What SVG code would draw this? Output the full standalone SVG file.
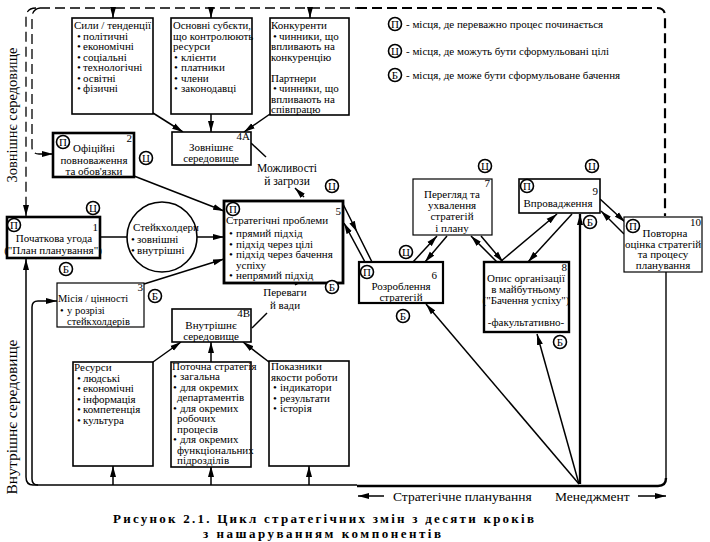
<svg xmlns="http://www.w3.org/2000/svg" width="710" height="542" viewBox="0 0 710 542">
<style>
text{font-family:"Liberation Serif","Times New Roman",serif;font-size:11px;fill:#000}
.c{text-anchor:middle}
.e{text-anchor:end}
.box{fill:#fff;stroke:#000;stroke-width:1.6}
.thick{stroke-width:2.6}
.thin{stroke-width:1.2}
.ln{fill:none;stroke:#000;stroke-width:1.5}
.tk{stroke-width:2.3}
.dash{fill:none;stroke:#000;stroke-width:1.3;stroke-dasharray:10 5}
.mk{fill:#fff;stroke:#000;stroke-width:1.6}
.ml{text-anchor:middle;font-size:11px}
.big{font-size:13.5px}
.side{font-size:14.5px;text-anchor:middle}
.cap{font-size:13px;font-weight:bold}
.sm{font-size:10.5px}
</style>
<defs>
<marker id="a" markerUnits="userSpaceOnUse" markerWidth="11" markerHeight="7" refX="11" refY="3.5" orient="auto"><path d="M0,0.5 L11,3.5 L0,6.5 z" fill="#000"/></marker>
</defs>

<g id="frame">
<path class="dash" d="M40,8 H357"/>
<path class="dash" style="stroke-width:2.2" d="M357,8 H657 Q665,8 665,16 V216"/>
<path class="dash" d="M36,8 Q26,8 26,18 V216" marker-end="url(#a)"/>
<path class="dash" d="M40,8 Q32,9 32,18 V147 Q32,154 39,154 H53" marker-end="url(#a)"/>
<path class="ln" style="stroke-width:1.3" d="M33,485 H357"/>
<path class="ln" style="stroke-width:2.4" d="M357,486 H658 Q666,486 666,478"/>
<path class="ln" style="stroke-width:1.4" d="M666,478 V272"/>
<path class="ln" d="M33,485 Q26,485 26,477 V259" marker-end="url(#a)"/>
<path class="ln" d="M38,485 Q32,485 32,479 V307 Q32,301 38,301 H57" marker-end="url(#a)"/>
</g>

<g id="connectors">
<path class="ln" d="M113,8 V18" marker-end="url(#a)"/>
<path class="ln" d="M211,8 V18" marker-end="url(#a)"/>
<path class="ln" d="M310,8 V18" marker-end="url(#a)"/>
<path class="ln" d="M113,485 V466" marker-end="url(#a)"/>
<path class="ln" d="M211,485 V466" marker-end="url(#a)"/>
<path class="ln" d="M309,485 V466" marker-end="url(#a)"/>
<path class="ln" d="M153,113 L183,132" marker-end="url(#a)"/>
<path class="ln" d="M211,114 V132" marker-end="url(#a)"/>
<path class="ln" d="M270,114 L244,132" marker-end="url(#a)"/>
<path class="ln" d="M153,362 L181,342" marker-end="url(#a)"/>
<path class="ln" d="M211,362 V342" marker-end="url(#a)"/>
<path class="ln" d="M269,362 L243,342" marker-end="url(#a)"/>
<path class="ln" d="M251,143 L266,157"/>
<path class="ln" d="M304,197 L295,188" marker-end="url(#a)"/>
<path class="ln" d="M304,279 L295,285" marker-end="url(#a)"/>
<path class="ln" d="M267,313 L252,328"/>
<path class="ln" d="M134,176 L224,211" marker-end="url(#a)"/>
<path class="ln" d="M100,237 H127"/>
<path class="ln" d="M197,237 H224" marker-end="url(#a)"/>
<path class="ln" d="M144,284 L224,259" marker-end="url(#a)"/>
<path class="ln" d="M343,204 L357,232 L372,262" marker-mid="url(#a)"/>
<path class="ln" d="M365,262 L344,223" marker-end="url(#a)"/>
<path class="ln" d="M413,262 L437,236" marker-end="url(#a)"/>
<path class="ln" d="M447,236 L425,262" marker-end="url(#a)"/>
<path class="ln" d="M497,262 L471,236" marker-end="url(#a)"/>
<path class="ln" d="M481,236 L503,262" marker-end="url(#a)"/>
<path class="ln" d="M500,262 L557,214" marker-end="url(#a)"/>
<path class="ln" d="M572,214 L528,262" marker-end="url(#a)"/>
<path class="ln" d="M600,199 L625,222" marker-end="url(#a)"/>
<path class="ln" d="M624,234 L601,211" marker-end="url(#a)"/>
<path class="ln" d="M579,484 L426,304" marker-end="url(#a)"/>
<path class="ln" d="M579,484 L537,334" marker-end="url(#a)"/>
<path class="ln tk" d="M580,484 V214" marker-end="url(#a)"/>
<path class="ln" d="M384,496 H358" marker-end="url(#a)"/>
<path class="ln" d="M638,496 H666" marker-end="url(#a)"/>
</g>

<g id="forces">
<rect class="box" x="72" y="18" width="81" height="96"/>
<text x="74" y="29">Сили / тенденції</text>
<text x="77" y="39.5">• <tspan x="83">політичні</tspan></text>
<text x="77" y="50">• <tspan x="83">економічні</tspan></text>
<text x="77" y="60.5">• <tspan x="83">соціальні</tspan></text>
<text x="77" y="71">• <tspan x="83">технологічні</tspan></text>
<text x="77" y="81.5">• <tspan x="83">освітні</tspan></text>
<text x="77" y="92">• <tspan x="83">фізичні</tspan></text>
</g>
<g id="subjects">
<rect class="box" x="171" y="18" width="81" height="96"/>
<text x="173" y="29" textLength="78" lengthAdjust="spacingAndGlyphs">Основні субєкти,</text>
<text x="173" y="39.5">що контролюють</text>
<text x="173" y="50">ресурси</text>
<text x="174" y="60.5">• <tspan x="181">клієнти</tspan></text>
<text x="174" y="71">• <tspan x="181">платники</tspan></text>
<text x="174" y="81.5">• <tspan x="181">члени</tspan></text>
<text x="174" y="92">• <tspan x="181">законодавці</tspan></text>
</g>
<g id="competitors">
<rect class="box" x="270" y="18" width="79" height="97"/>
<text x="271" y="29">Конкуренти</text>
<text x="273" y="39.5">• <tspan x="279">чинники, що</tspan></text>
<text x="271" y="50">впливають на</text>
<text x="271" y="60.5">конкуренцію</text>
<text x="271" y="81.5">Партнери</text>
<text x="273" y="92">• <tspan x="279">чинники, що</tspan></text>
<text x="271" y="102.5">впливають на</text>
<text x="271" y="113">співпрацю</text>
</g>

<g id="n4a">
<rect class="box" x="172" y="132" width="79" height="33"/>
<text class="e" x="250" y="140">4A</text>
<text class="c" x="211" y="151">Зовнішнє</text>
<text class="c" x="211" y="161.5">середовище</text>
</g>
<g id="n4b">
<rect class="box" x="172" y="309" width="79" height="33"/>
<text class="e" x="250" y="317">4B</text>
<text class="c" x="211" y="329">Внутрішнє</text>
<text class="c" x="211" y="339.5">середовище</text>
</g>

<g id="n2">
<rect class="box thick" x="53" y="133" width="81" height="44"/>
<text class="e" x="132" y="142">2</text>
<text class="c" x="94" y="152">Офіційні</text>
<text class="c" x="94" y="163.5">повноваження</text>
<text class="c" x="94" y="175">та обов'язки</text>
<circle class="mk" cx="63" cy="142" r="6.5"/><text class="ml" x="63" y="146">П</text>
<circle class="mk" cx="146" cy="158" r="6.5"/><text class="ml" x="146" y="162">Ц</text>
</g>

<g id="n1">
<rect class="box thick" x="7" y="217" width="93" height="41"/>
<text class="e" x="98" y="231">1</text>
<text class="c" x="54" y="242">Початкова угода</text>
<text class="c" x="53" y="254">("План планування")</text>
<circle class="mk" cx="14" cy="225" r="6.5"/><text class="ml" x="14" y="229">П</text>
<circle class="mk" cx="93" cy="208" r="6.5"/><text class="ml" x="93" y="212">Ц</text>
<circle class="mk" cx="66" cy="269" r="6.5"/><text class="ml" x="66" y="273">Б</text>
</g>

<g id="stakeholders">
<circle cx="162" cy="237" r="35" fill="#fff" stroke="#000" stroke-width="1.6"/>
<text x="133" y="231">Стейкхолдери</text>
<text x="131" y="243">• <tspan x="137">зовнішні</tspan></text>
<text x="131" y="254">• <tspan x="137">внутрішні</tspan></text>
</g>

<g id="n3">
<rect class="box thin" x="57" y="283" width="87" height="44"/>
<text class="e" x="143" y="291">3</text>
<text class="sm" x="58" y="302">Місія / цінності</text>
<text class="sm" x="60" y="313.5">• <tspan x="67">у розрізі</tspan></text>
<text class="sm" x="67" y="324.5">стейкхолдерів</text>
<circle class="mk" cx="155" cy="296" r="6.5"/><text class="ml" x="155" y="300">Б</text>
</g>

<g id="n5">
<rect class="box" style="stroke-width:2.8" x="224" y="201" width="119" height="82"/>
<text class="e" x="341" y="215">5</text>
<text x="226" y="224">Стратегічні проблеми</text>
<text x="229" y="237">• <tspan x="236">прямий підхід</tspan></text>
<text x="229" y="247.5">• <tspan x="236">підхід через цілі</tspan></text>
<text x="229" y="258">• <tspan x="236">підхід через бачення</tspan></text>
<text x="236" y="268.5">успіху</text>
<text x="229" y="279">• <tspan x="236">непрямий підхід</tspan></text>
<circle class="mk" cx="233" cy="209" r="6.5"/><text class="ml" x="233" y="213">П</text>
<circle class="mk" cx="332" cy="186" r="6.5"/><text class="ml" x="332" y="190">Ц</text>
<circle class="mk" cx="332" cy="287" r="6.5"/><text class="ml" x="332" y="291">Б</text>
</g>

<g id="labels">
<text class="c" style="font-size:11.5px" x="287" y="171.5">Можливості</text>
<text class="c" style="font-size:11.5px" x="287" y="184.5">й загрози</text>
<text class="c" x="285" y="296">Переваги</text>
<text class="c" x="285" y="308.5">й вади</text>
</g>

<g id="n6">
<rect class="box" style="stroke-width:2.2" x="359" y="262" width="84" height="41"/>
<text class="e" x="437" y="279">6</text>
<text class="c" x="401" y="289.5">Розроблення</text>
<text class="c" x="401" y="300.5">стратегій</text>
<circle class="mk" cx="367" cy="272" r="6.5"/><text class="ml" x="367" y="276">П</text>
<circle class="mk" cx="406" cy="252" r="6.5"/><text class="ml" x="406" y="256">Ц</text>
<circle class="mk" cx="403" cy="316" r="6.5"/><text class="ml" x="403" y="320">Б</text>
</g>

<g id="n7">
<rect class="box thin" x="413" y="179" width="79" height="56"/>
<text class="e" x="490" y="187">7</text>
<text class="c" x="452" y="198">Перегляд та</text>
<text class="c" x="452" y="209">ухвалення</text>
<text class="c" x="452" y="220">стратегій</text>
<text class="c" x="452" y="231.5">і плану</text>
<circle class="mk" cx="485" cy="166" r="6.5"/><text class="ml" x="485" y="170">Ц</text>
</g>

<g id="n8">
<rect class="box" style="stroke-width:2.4" x="484" y="262" width="85" height="70"/>
<text class="e" x="567" y="271">8</text>
<text class="c" x="526" y="282">Опис організації</text>
<text class="c" x="526" y="293">в майбутньому</text>
<text class="c" x="526" y="304">("Бачення успіху")</text>
<text class="c" x="526" y="326">-факультативно-</text>
<circle class="mk" cx="560" cy="342" r="6.5"/><text class="ml" x="560" y="346">Б</text>
</g>

<g id="n9">
<rect class="box" x="519" y="179" width="81" height="34"/>
<text class="e" x="598" y="195">9</text>
<text class="c" x="558" y="207">Впровадження</text>
<circle class="mk" cx="527" cy="186" r="6.5"/><text class="ml" x="527" y="190">П</text>
<circle class="mk" cx="592" cy="166" r="6.5"/><text class="ml" x="592" y="170">Ц</text>
<circle class="mk" cx="590" cy="222" r="6.5"/><text class="ml" x="590" y="226">Б</text>
</g>

<g id="n10">
<rect class="box thin" x="624" y="217" width="78" height="55"/>
<text class="e" x="701" y="226">10</text>
<text class="c" x="665" y="237">Повторна</text>
<text class="c" x="663" y="247.5">оцінка стратегій</text>
<text class="c" x="663" y="258">та процесу</text>
<text class="c" x="663" y="268.5">планування</text>
<circle class="mk" cx="633" cy="226" r="6.5"/><text class="ml" x="633" y="230">П</text>
</g>

<g id="resources">
<rect class="box" x="73" y="362" width="80" height="104"/>
<text x="74" y="371">Ресурси</text>
<text x="77" y="381.5">• <tspan x="83">людські</tspan></text>
<text x="77" y="392">• <tspan x="83">економічні</tspan></text>
<text x="77" y="402.5">• <tspan x="83">інформація</tspan></text>
<text x="77" y="413">• <tspan x="83">компетенція</tspan></text>
<text x="77" y="423.5">• <tspan x="83">культура</tspan></text>
</g>
<g id="strategy">
<rect class="box" x="171" y="362" width="80" height="105"/>
<text x="172" y="369.5">Поточна стратегія</text>
<text x="173" y="380">• <tspan x="180">загальна</tspan></text>
<text x="173" y="390.5">• <tspan x="180">для окремих</tspan></text>
<text x="177" y="401">департаментів</text>
<text x="173" y="411.5">• <tspan x="180">для окремих</tspan></text>
<text x="177" y="422">робочих</text>
<text x="177" y="432.5">процесів</text>
<text x="173" y="443">• <tspan x="180">для окремих</tspan></text>
<text x="177" y="453.5">функціональних</text>
<text x="177" y="464">підрозділів</text>
</g>
<g id="indicators">
<rect class="box" x="269" y="361" width="80" height="105"/>
<text x="271" y="370">Показники</text>
<text x="271" y="380.5">якости роботи</text>
<text x="273" y="391">• <tspan x="280">індикатори</tspan></text>
<text x="273" y="401.5">• <tspan x="280">результати</tspan></text>
<text x="273" y="412">• <tspan x="280">історія</tspan></text>
</g>

<g id="legend">
<circle class="mk" cx="395" cy="24" r="6.5"/><text class="ml" x="395" y="28">П</text>
<text x="406" y="28">- місця, де переважно процес починається</text>
<circle class="mk" cx="395" cy="51" r="6.5"/><text class="ml" x="395" y="55">Ц</text>
<text x="406" y="55">- місця, де можуть бути сформульовані цілі</text>
<circle class="mk" cx="395" cy="75" r="6.5"/><text class="ml" x="395" y="79">Б</text>
<text x="406" y="79">- місця, де може бути сформульоване бачення</text>
</g>

<g id="side">
<text class="side" transform="translate(17,115) rotate(-90)" textLength="135" lengthAdjust="spacingAndGlyphs">Зовнішнє середовище</text>
<text class="side" transform="translate(17,417) rotate(-90)" textLength="155" lengthAdjust="spacingAndGlyphs">Внутрішнє середовище</text>
<text class="big" x="393" y="501">Стратегічне планування</text>
<text class="big" x="555" y="501">Менеджмент</text>
</g>

<g id="caption">
<text class="cap" x="113" y="523" textLength="421" lengthAdjust="spacing">Рисунок 2.1. Цикл стратегічних змін з десяти кроків</text>
<text class="cap" x="203" y="538" textLength="238" lengthAdjust="spacing">з нашаруванням компонентів</text>
</g>
</svg>
